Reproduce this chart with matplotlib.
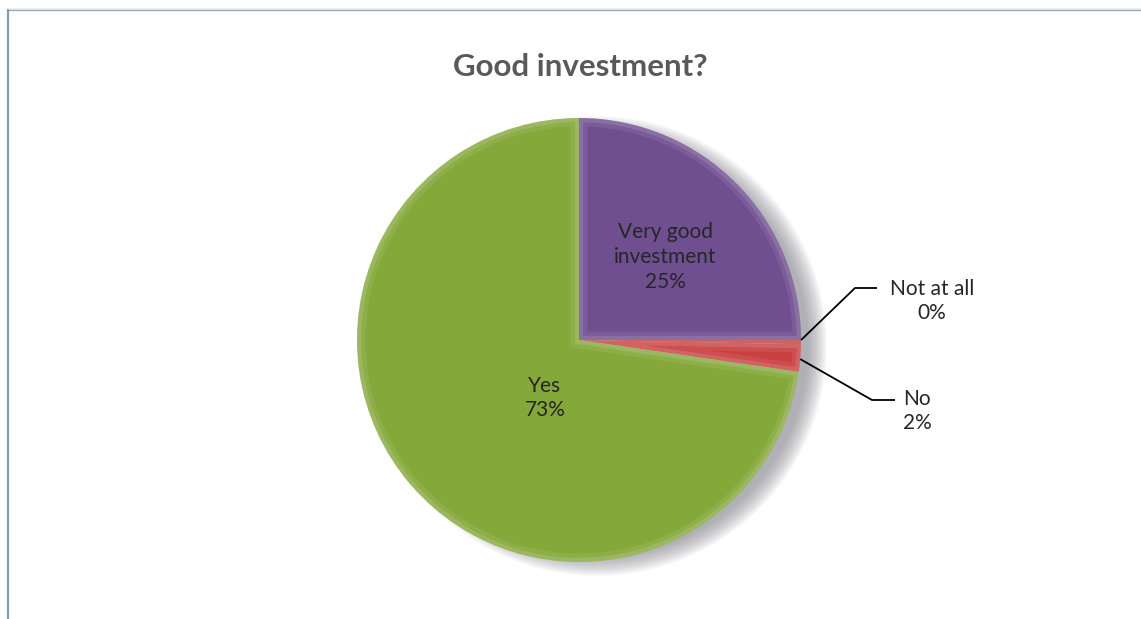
import numpy as np
import matplotlib.pyplot as plt
from matplotlib.patches import Circle, Wedge

W, H = 1141, 619

labels = ['Very good\ninvestment', 'Not at all', 'No', 'Yes']
shares = [25.0, 0.3, 2.0, 72.7]   # percent of answers
colors = ['#6f4f90', '#c4403f', '#c8403f', '#85a83a']
title = 'Good investment?'

CX, CY, R = 579, H - 340, 222

plt.rcParams['font.family'] = ['Lato', 'DejaVu Sans']

fig = plt.figure(figsize=(W / 100, H / 100), dpi=100)
ax = fig.add_axes([0, 0, 1, 1])
ax.set_xlim(0, W)
ax.set_ylim(0, H)
ax.set_aspect('equal')
ax.axis('off')

# soft drop shadow, pushed to the right
for k in range(20):
    ax.add_patch(Circle((CX + 18, CY - 6), R + 8 - k, color='#7c7c86',
                        alpha=0.04, lw=0, zorder=0))

wedges, _ = ax.pie(shares, colors=colors, startangle=90, counterclock=False,
                   center=(CX, CY), radius=R, frame=False,
                   wedgeprops=dict(linewidth=0))
for w in wedges:
    w.set_zorder(2)
    # light bevel along the inside of each slice
    for lw, a in [(12, 0.08), (6, 0.12)]:
        bev = Wedge(w.center, w.r, w.theta1, w.theta2, fill=False,
                    edgecolor='white', alpha=a, linewidth=lw, zorder=3)
        ax.add_patch(bev)
        bev.set_clip_path(w)

ax.set_xlim(0, W)
ax.set_ylim(0, H)

def pct(v):
    return '{:.0f}%'.format(v)

txt = dict(fontsize=15, color='#262626', ha='center', va='center',
           linespacing=1.3)

# inside labels
ax.text(665, H - 257, labels[0] + '\n' + pct(shares[0]), **txt, zorder=5)
ax.text(545, H - 398, labels[3] + '\n' + pct(shares[3]), **txt, zorder=5)

# outside labels with leader lines, anchored at the rim of each slice
def rim(w):
    a = np.radians((w.theta1 + w.theta2) / 2)
    return CX + R * np.cos(a), CY + R * np.sin(a)

x0, y0 = rim(wedges[1])
ax.plot([x0, 855, 877], [y0 + 2, H - 288, H - 288], color='black', lw=1.3,
        zorder=6, solid_capstyle='butt')
ax.text(932, H - 301, labels[1] + '\n' + pct(shares[1]), **txt, zorder=5)

x0, y0 = rim(wedges[2])
ax.plot([x0, 872, 895], [y0 - 1, H - 400, H - 400], color='black', lw=1.3,
        zorder=6, solid_capstyle='butt')
ax.text(917, H - 411, labels[2] + '\n' + pct(shares[2]), **txt, zorder=5)

ax.text(580, H - 67, title, fontsize=22.5, fontweight='bold', color='#595959',
        ha='center', va='center')

# chart frame (open at right and bottom)
ax.plot([8, 8, W], [0, H - 10, H - 10], color='#7f9db6', lw=1.6,
        solid_joinstyle='miter', zorder=7)
ax.plot([9, W], [H - 8.5, H - 8.5], color='#dde3e8', lw=1, zorder=7)

fig.savefig('out.png', dpi=100)
